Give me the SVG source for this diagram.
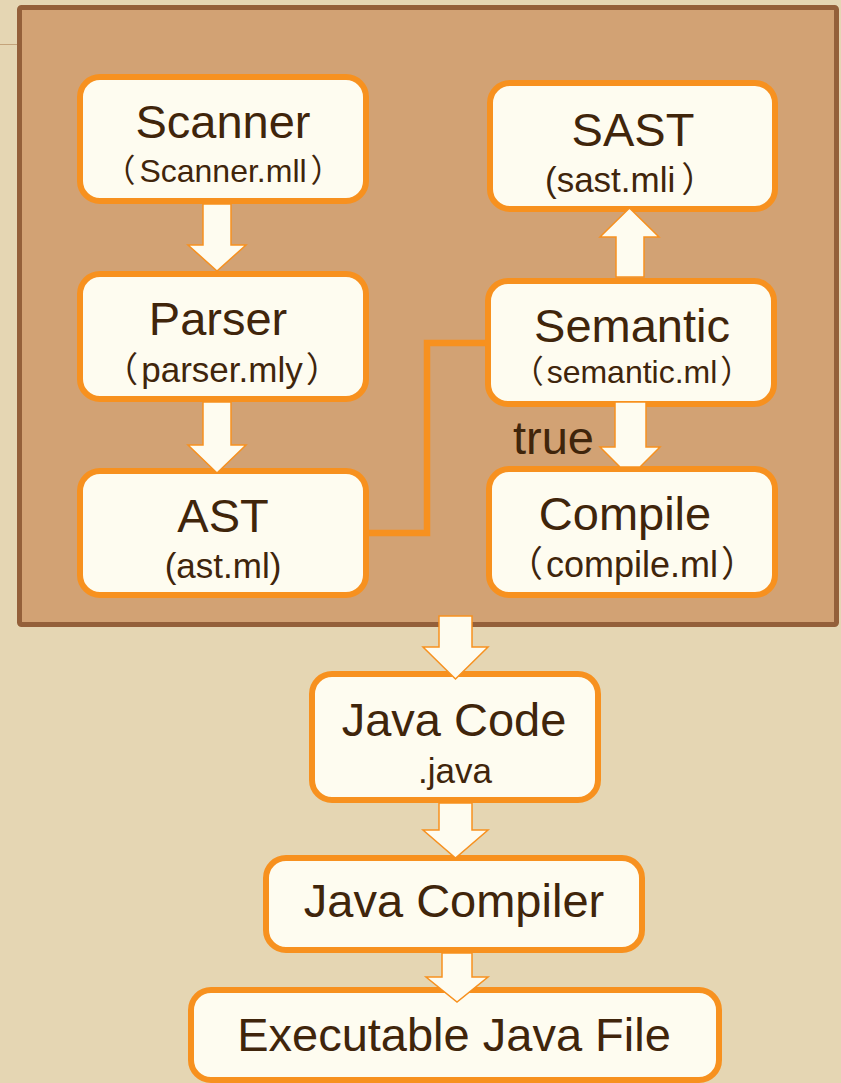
<svg xmlns="http://www.w3.org/2000/svg" width="841" height="1083" viewBox="0 0 841 1083">
  <style>
    .node { fill: #FEFCF0; stroke: #F7911F; stroke-width: 6; }
    .t { font-family: "Liberation Sans", Arial, "Noto Sans CJK SC", sans-serif; fill: #40250B; text-anchor: middle; }
    .main { font-size: 47px; }
    .arrow { fill: #FEFCF0; stroke: #F7911F; stroke-width: 1.5; stroke-linejoin: miter; }
    .link { fill: none; stroke: #F7911F; stroke-width: 6.5; stroke-linejoin: miter; }
  </style>
  <rect x="0" y="0" width="841" height="1083" fill="#E5D6B3"/>
  <line x1="0" y1="44.5" x2="18" y2="44.5" stroke="#C4A37A" stroke-width="1"/>
  <rect id="panel" x="19.5" y="7.5" width="817" height="617" rx="2" fill="#D2A274" stroke="#94603A" stroke-width="5"/>

  <g id="scanner">
    <rect class="node" x="80" y="77" width="286" height="124" rx="20"/>
    <text class="t main" x="223" y="138">Scanner</text>
    <text class="t" x="223" y="182" font-size="32">（<tspan dx="4">Scanner.mll</tspan><tspan dx="4">）</tspan></text>
  </g>
  <g id="parser">
    <rect class="node" x="80" y="274" width="286" height="125" rx="20"/>
    <text class="t main" x="218" y="335">Parser</text>
    <text class="t" x="222" y="382" font-size="35">（<tspan dx="3">parser.mly</tspan><tspan dx="3">）</tspan></text>
  </g>
  <g id="ast">
    <rect class="node" x="80" y="471" width="286" height="124" rx="20"/>
    <text class="t main" x="223" y="532">AST</text>
    <text class="t" x="223" y="578" font-size="35">(ast.ml)</text>
  </g>
  <g id="sast">
    <rect class="node" x="490" y="83" width="285" height="126" rx="20"/>
    <text class="t main" x="633" y="146">SAST</text>
    <text class="t" x="545" y="192" font-size="35" style="text-anchor:start">(sast.mli<tspan dx="6">）</tspan></text>
  </g>
  <g id="semantic">
    <rect class="node" x="488" y="281" width="286" height="123" rx="20"/>
    <text class="t main" x="632" y="342">Semantic</text>
    <text class="t" x="632" y="383" font-size="32">（<tspan dx="3">semantic.ml</tspan><tspan dx="3">）</tspan></text>
  </g>
  <g id="compile">
    <rect class="node" x="489" y="469" width="286" height="126" rx="20"/>
    <text class="t main" x="625" y="530">Compile</text>
    <text class="t" x="632" y="577" font-size="36">（<tspan dx="3">compile.ml</tspan><tspan dx="3">）</tspan></text>
  </g>
  <g id="javacode">
    <rect class="node" x="312" y="674" width="286" height="126" rx="20"/>
    <text class="t main" x="454" y="736">Java Code</text>
    <text class="t" x="455" y="783" font-size="35">.java</text>
  </g>
  <g id="javacompiler">
    <rect class="node" x="266" y="858" width="376" height="92" rx="20"/>
    <text class="t main" x="454" y="917">Java Compiler</text>
  </g>
  <g id="executable">
    <rect class="node" x="191" y="990" width="528" height="90" rx="20"/>
    <text class="t main" x="454" y="1051">Executable Java File</text>
  </g>

  <g id="connectors">
    <polyline class="link" points="369,533 427,533 427,343 486,343"/>
    <polygon class="arrow" points="203,204 231,204 231,245 246,245 217,271 188,245 203,245"/>
    <polygon class="arrow" points="203,402 231,402 231,445 246,445 217,473 188,445 203,445"/>
    <polygon class="arrow" points="616,277 644,277 644,237 659,237 629.5,208 600,237 616,237"/>
    <polygon class="arrow" points="615,402 646,402 646,447 660,447 640,467 620,467 600,447 615,447"/>
    <polygon class="arrow" points="439,616 472,616 472,647 488,647 455.5,679 423,647 439,647"/>
    <polygon class="arrow" points="439,803 472,803 472,830 488,830 455.5,858 423,830 439,830"/>
    <polygon class="arrow" points="442,953 472,953 472,977 488,977 457,1002 426,977 442,977"/>
    <text class="t" x="513" y="454" font-size="47" style="text-anchor:start">true</text>
  </g>
</svg>
